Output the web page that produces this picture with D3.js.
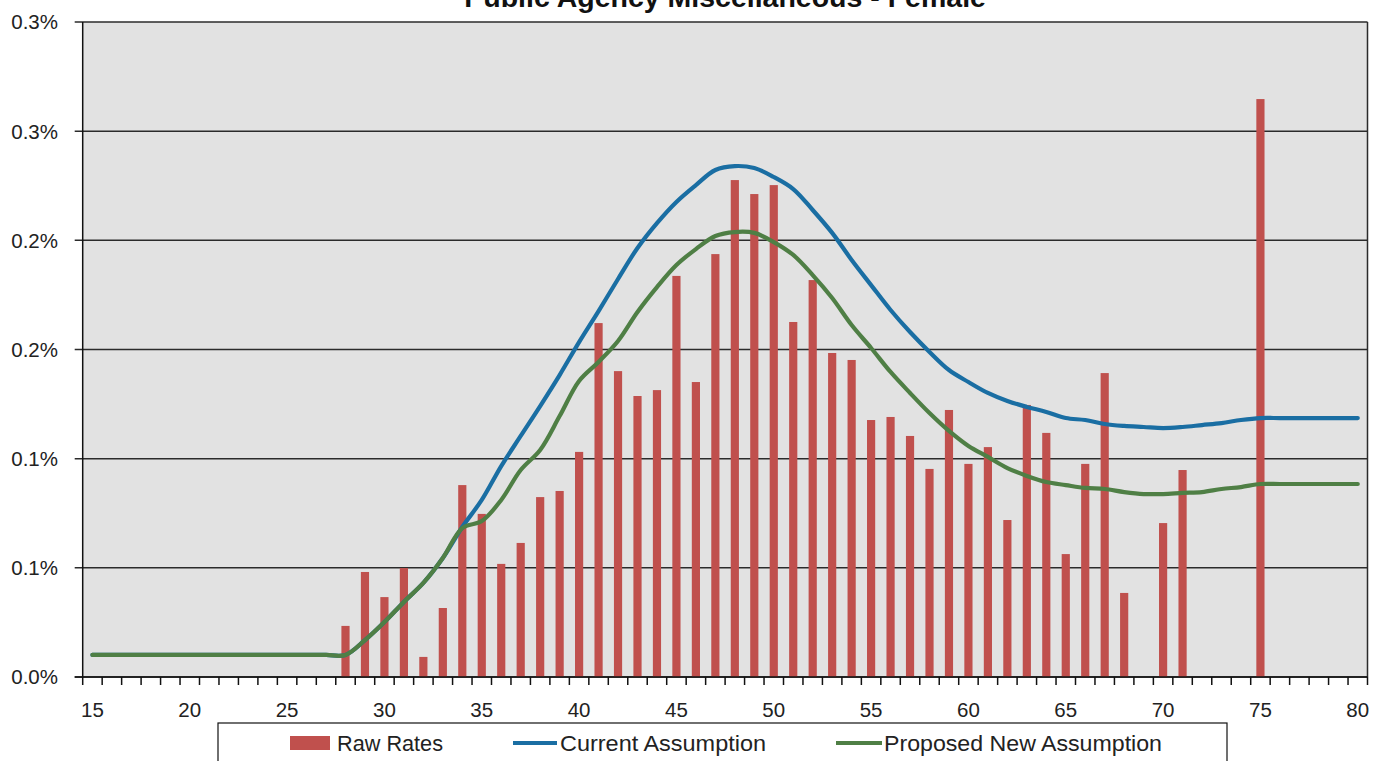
<!DOCTYPE html>
<html><head><meta charset="utf-8">
<script src="https://cdn.jsdelivr.net/npm/d3@7"></script>
<style>body{margin:0;background:#fff;}svg{display:block;}</style>
</head><body>
<script>
const title = "Public Agency Miscellaneous - Female";
const ages = d3.range(15, 81);
const yTickValues = [0, 0.05, 0.10, 0.15, 0.20, 0.25, 0.30];
const yTickLabels = ["0.0%","0.1%","0.1%","0.2%","0.2%","0.3%","0.3%"];
const xTickLabels = [15,20,25,30,35,40,45,50,55,60,65,70,75,80];
const seriesNames = ["Raw Rates","Current Assumption","Proposed New Assumption"];
// Raw rates (%) by age (ages without a bar are omitted)
const rawAges = [28,29,30,31,32,33,34,35,36,37,38,39,40,41,42,43,44,45,46,47,48,49,50,51,52,53,54,55,56,57,58,59,60,61,62,63,64,65,66,67,68,70,71,75];
const rawRates = [0.0234,0.0481,0.0366,0.0499,0.0092,0.0316,0.0879,0.0747,0.0518,0.0614,0.0824,0.0852,0.1031,0.1621,0.1401,0.1287,0.1314,0.1837,0.1351,0.1937,0.2276,0.2212,0.2253,0.1626,0.1818,0.1484,0.1452,0.1177,0.1191,0.1104,0.0953,0.1223,0.0976,0.1053,0.0719,0.1246,0.1118,0.0563,0.0976,0.1392,0.0385,0.0705,0.0948,0.2647];
// Proposed new assumption (%) ages 15..80
const proposed = [0.0101,0.0101,0.0101,0.0101,0.0101,0.0101,0.0101,0.0101,0.0101,0.0101,0.0101,0.0101,0.0101,0.0101,
  0.0169,0.0252,0.0344,0.0431,0.0545,0.0682,0.0714,0.0811,0.0948,0.1040,0.1195,0.1356,0.1443,0.1539,0.1672,0.1786,
  0.1887,0.1960,0.2020,0.2038,0.2034,0.1992,0.1933,0.1841,0.1736,0.1612,0.1507,0.1397,0.1301,0.1209,0.1127,0.1058,
  0.1008,0.0957,0.0921,0.0893,0.0879,0.0866,0.0861,0.0847,0.0838,0.0838,0.0843,0.0847,0.0861,0.0870,0.0884,
  0.0884,0.0884,0.0884,0.0884,0.0884];
// Current assumption (%) ages 15..80 (same as proposed below 34)
const current = [0.0101,0.0101,0.0101,0.0101,0.0101,0.0101,0.0101,0.0101,0.0101,0.0101,0.0101,0.0101,0.0101,0.0101,
  0.0169,0.0252,0.0344,0.0431,0.0545,0.0687,0.0811,0.0966,0.1104,0.1241,0.1383,0.1534,0.1676,0.1823,0.1965,0.2079,
  0.2176,0.2253,0.2322,0.2340,0.2331,0.2290,0.2235,0.2139,0.2034,0.1910,0.1795,0.1681,0.1580,0.1489,0.1406,0.1351,
  0.1301,0.1264,0.1237,0.1214,0.1186,0.1177,0.1159,0.1150,0.1145,0.1140,0.1145,0.1154,0.1163,0.1177,0.1186,
  0.1186,0.1186,0.1186,0.1186,0.1186];

const colors = {raw:"#c0504d", current:"#1a6ea3", proposed:"#4f7f45"};
const W = 1386, H = 761;
const L = 82.7, R = 1367.5, T = 22, B = 677;
const font = "'Liberation Sans', Arial, sans-serif";

const svg = d3.select("body").append("svg").attr("width", W).attr("height", H);
const x = d3.scaleBand().domain(ages).range([L, R]).padding(0);
const y = d3.scaleLinear().domain([0, 0.30]).range([B, T]);
const bw = x.bandwidth();
const cx = a => x(a) + bw / 2;

svg.append("rect").attr("x", L).attr("y", T).attr("width", R - L).attr("height", B - T).attr("fill", "#e2e2e2");

// gridlines
svg.append("g").selectAll("line").data(yTickValues).join("line")
  .attr("x1", L - 8).attr("x2", R).attr("y1", d => y(d)).attr("y2", d => y(d))
  .attr("stroke", "#2b2b2b").attr("stroke-width", 1.5);
// right border
svg.append("line").attr("x1", R).attr("x2", R).attr("y1", T).attr("y2", B).attr("stroke", "#2b2b2b").attr("stroke-width", 1.5);

// y labels
svg.append("g").selectAll("text").data(yTickValues).join("text")
  .attr("x", 58).attr("y", d => y(d)).attr("dy", "0.36em").attr("text-anchor", "end")
  .attr("font-family", font).attr("font-size", 20.5).attr("fill", "#222")
  .text((d, i) => yTickLabels[i]);

// bars
const rawData = rawAges.map((a, i) => ({age: a, v: rawRates[i]}));
const barW = bw * 0.42;
svg.append("g").selectAll("rect").data(rawData).join("rect")
  .attr("x", d => cx(d.age) - barW / 2).attr("width", barW)
  .attr("y", d => y(d.v)).attr("height", d => y(0) - y(d.v))
  .attr("fill", colors.raw);

// lines
const line = d3.line().x((d, i) => cx(ages[i])).y(d => y(d)).curve(d3.curveCatmullRom.alpha(0.5));
svg.append("path").datum(current).attr("d", line).attr("fill", "none")
  .attr("stroke", colors.current).attr("stroke-width", 4.2).attr("stroke-linecap", "round").attr("stroke-linejoin", "round");
svg.append("path").datum(proposed).attr("d", line).attr("fill", "none")
  .attr("stroke", colors.proposed).attr("stroke-width", 4.2).attr("stroke-linecap", "round").attr("stroke-linejoin", "round");

// axes lines
svg.append("line").attr("x1", L).attr("x2", L).attr("y1", T).attr("y2", B + 8).attr("stroke", "#111").attr("stroke-width", 1.5);
svg.append("line").attr("x1", L - 8).attr("x2", R).attr("y1", B).attr("y2", B).attr("stroke", "#111").attr("stroke-width", 1.5);
// x ticks at category boundaries
svg.append("g").selectAll("line").data(ages.slice(1).concat(["end"])).join("line")
  .attr("x1", d => d === "end" ? R : x(d)).attr("x2", d => d === "end" ? R : x(d))
  .attr("y1", B).attr("y2", B + 8).attr("stroke", "#111").attr("stroke-width", 1.5);
// x labels
svg.append("g").selectAll("text").data(xTickLabels).join("text")
  .attr("x", d => cx(d)).attr("y", 717).attr("text-anchor", "middle")
  .attr("font-family", font).attr("font-size", 20.5).attr("fill", "#222").text(d => d);

// title (partly above the top edge, as in the reference)
svg.append("text").attr("x", (L + R) / 2).attr("y", 7).attr("text-anchor", "middle")
  .attr("font-family", font).attr("font-weight", "bold").attr("font-size", 28.5).attr("fill", "#111").text(title);

// legend
const lg = svg.append("g");
lg.append("rect").attr("x", 218).attr("y", 723).attr("width", 1009).attr("height", 60)
  .attr("fill", "#fff").attr("stroke", "#111").attr("stroke-width", 1.2);
lg.append("rect").attr("x", 290).attr("y", 736).attr("width", 40).attr("height", 14).attr("fill", colors.raw);
lg.append("line").attr("x1", 513).attr("x2", 557).attr("y1", 743).attr("y2", 743).attr("stroke", colors.current).attr("stroke-width", 4);
lg.append("line").attr("x1", 836).attr("x2", 882).attr("y1", 743).attr("y2", 743).attr("stroke", colors.proposed).attr("stroke-width", 4);
const lx = [337, 560, 884];
const lw = [106, 206, 278];
lg.selectAll("text").data(seriesNames).join("text")
  .attr("x", (d, i) => lx[i]).attr("y", 751)
  .attr("textLength", (d, i) => lw[i]).attr("lengthAdjust", "spacingAndGlyphs")
  .attr("font-family", font).attr("font-size", 22).attr("fill", "#222").text(d => d);
</script>
</body></html>
